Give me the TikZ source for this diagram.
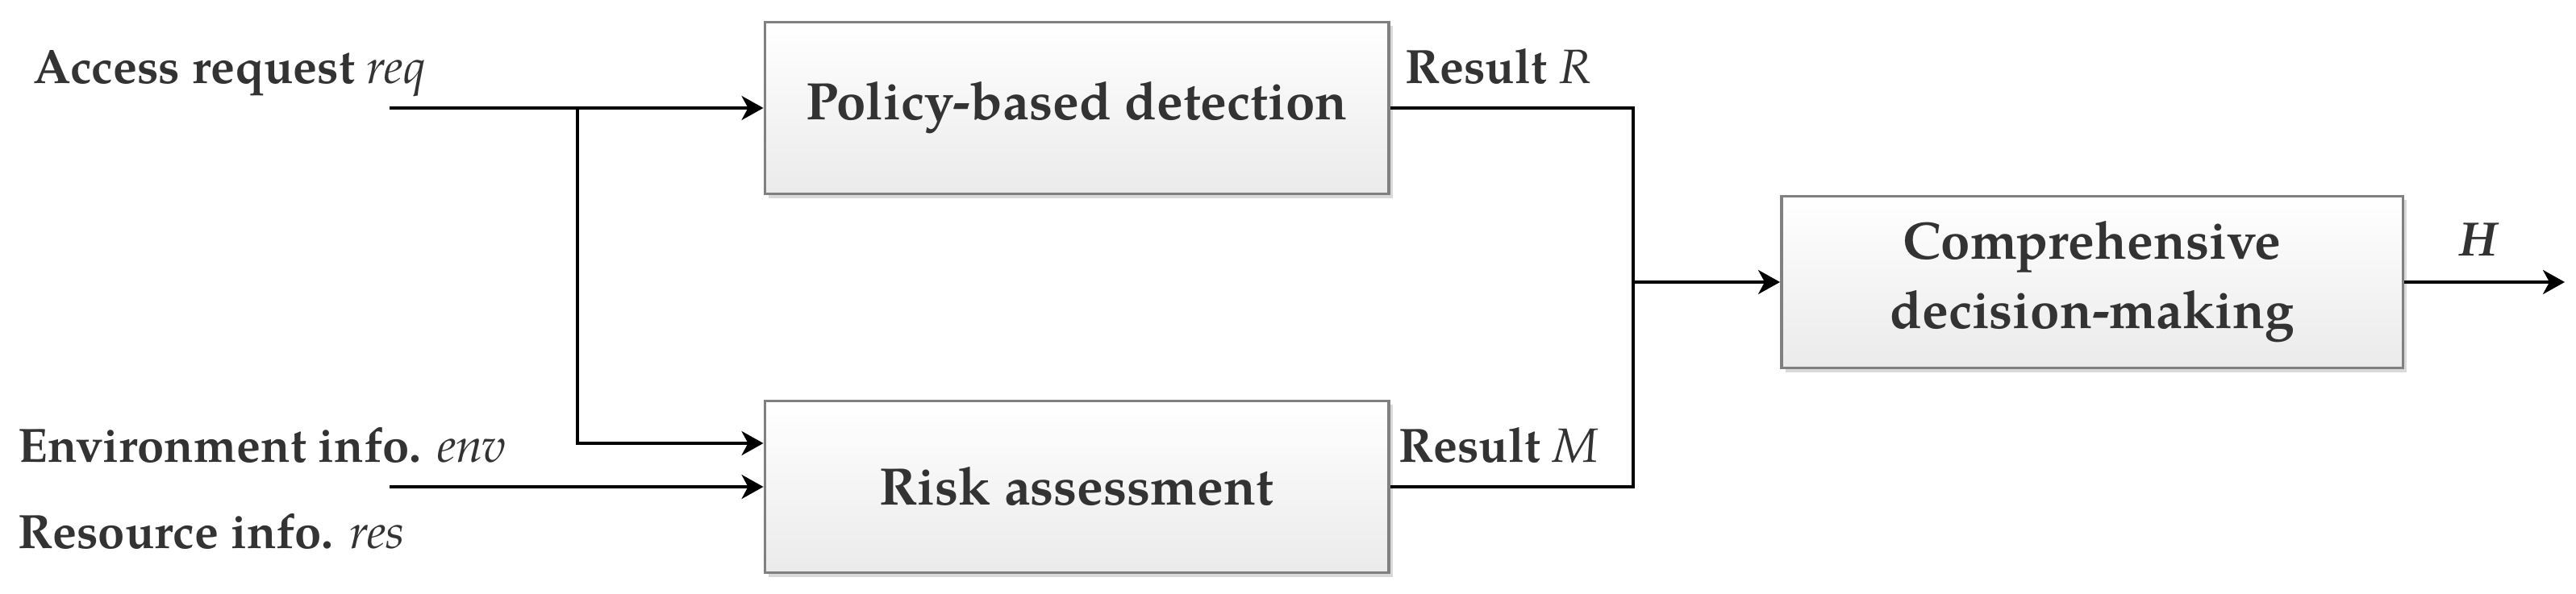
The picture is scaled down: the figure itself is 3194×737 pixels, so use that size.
\documentclass[tikz,border=0pt]{standalone}
\usepackage{fontspec}
\setmainfont{TeX Gyre Pagella}
\usetikzlibrary{arrows.meta,shadows}
\definecolor{ink}{HTML}{333333}
\newcommand{\var}[1]{{\mdseries\itshape #1}}
\tikzset{
  block/.style={draw=black!50, line width=1pt, top color=white, bottom color=black!8,
    minimum width=7.73cm, minimum height=2.13cm, inner sep=0pt, align=center,
    text=ink, font=\fontsize{18.6}{24.4}\selectfont\bfseries,
    drop shadow={shadow xshift=0.5mm, shadow yshift=-0.5mm, fill=black!15, opacity=1}},
  lbl/.style={anchor=base west, inner sep=0pt, text=ink, font=\fontsize{17}{20}\selectfont\bfseries},
  flow/.style={line width=1pt, -{Stealth[length=2.7mm, width=3mm, inset=0.8mm]}},
  wire/.style={line width=1pt}
}
\begin{document}
\begin{tikzpicture}[x=0.01cm, y=-0.01cm]
    \useasboundingbox (0, 0) rectangle (3194, 737);

    \node [block] (policy) at (1335, 134) {Policy-based detection};
    \node [block] (risk) at (1335, 604) {Risk assessment};
    \node [block, minimum width=7.7cm] (comp) at (2594, 350) {Comprehensive\\decision-making};

    \node [lbl] (req) at (41, 104) {Access request \var{req}};
    \node [lbl] (env) at (22, 573) {Environment info. \var{env}};
    \node [lbl] (res) at (22, 680) {Resource info. \var{res}};
    \node [lbl] (resR) at (1742, 104) {Result \var{R}};
    \node [lbl] (resM) at (1734, 573) {Result \var{M}};
    \node [lbl] (outH) at (3049, 318) {\textit{H}};

    \coordinate (reqin) at (483, 134);
    \coordinate (split) at (716, 134);
    \coordinate (envin) at (483, 604);
    \coordinate (join) at (2025, 350);
    \coordinate (out) at (3180, 350);

    \draw[flow] (reqin) -- (policy.west);
    \draw[flow] (split) |- ([yshift=5.4mm]risk.west);
    \draw[flow] (envin) -- (risk.west);
    \draw[wire] (policy.east) -| (join);
    \draw[wire] (risk.east) -| (join);
    \draw[flow] (join) -- (comp.west);
    \draw[flow] (comp.east) -- (out);
\end{tikzpicture}
\end{document}
